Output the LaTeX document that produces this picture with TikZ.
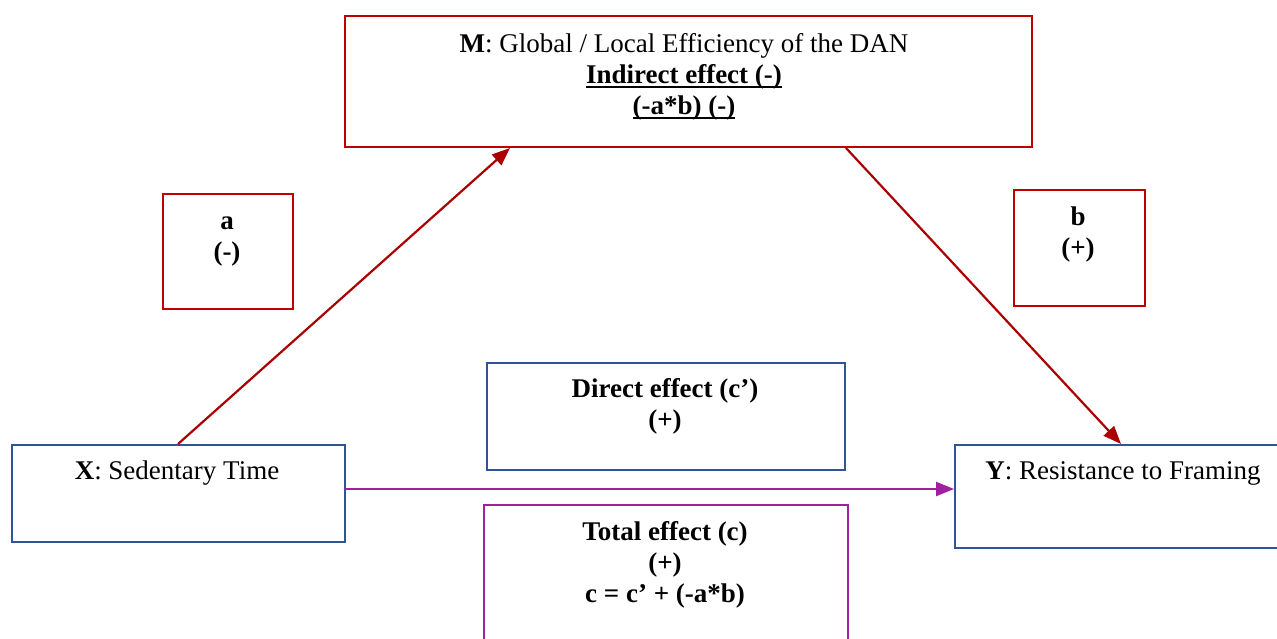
\documentclass[tikz,border=0pt]{standalone}
\usepackage{fontspec}
\setmainfont{Liberation Serif}
\newcommand{\thickul}[1]{\setbox0\hbox{#1}\leavevmode\rlap{\vrule width\wd0 height -2.6pt depth 4.4pt}\box0}
\usetikzlibrary{arrows.meta}
\definecolor{boxred}{RGB}{192,0,0}
\definecolor{arrred}{RGB}{170,0,0}
\definecolor{boxblue}{RGB}{47,85,151}
\definecolor{boxpurple}{RGB}{160,32,160}
\begin{document}
\begin{tikzpicture}[x=1pt,y=-1pt,
  box/.style={draw, line width=2.2pt, inner sep=0pt, anchor=north west},
  txt/.style={anchor=north, inner sep=0pt, align=center, font=\fontsize{27}{31}\selectfont},
  arr/.style={line width=2.2pt, -{Triangle[length=18pt,width=14pt]}}]
\useasboundingbox (0,0) rectangle (1277,639);
% boxes
\node[box, draw=boxred, minimum width=687pt, minimum height=131pt] (M) at (344,15) {};
\node[box, draw=boxred, minimum width=130pt, minimum height=115pt] (A) at (162,193) {};
\node[box, draw=boxred, minimum width=131pt, minimum height=116pt] (B) at (1013,189) {};
\node[box, draw=boxblue, minimum width=358pt, minimum height=107pt] (D) at (486,362) {};
\node[box, draw=boxblue, minimum width=333pt, minimum height=97pt] (X) at (11,444) {};
\node[box, draw=boxblue, minimum width=360pt, minimum height=103pt] (Y) at (954,444) {};
\node[box, draw=boxpurple, minimum width=364pt, minimum height=160pt] (T) at (483,504) {};
% texts
\node[txt] (Mt) at (684,31) {\strut\textbf{M}: Global / Local Efficiency of the DAN\\
  \strut\thickul{\textbf{Indirect effect (-)}}\\ \strut\thickul{\textbf{(-a*b) (-)}}};
\node[txt] (At) at (227,208) {\strut\textbf{a}\\ \strut\textbf{(-)}};
\node[txt] (Bt) at (1078,204) {\strut\textbf{b}\\ \strut\textbf{(+)}};
\node[txt] (Dt) at (665,376) {\strut\textbf{Direct effect (c’)}\\ \strut\textbf{(+)}};
\node[txt] (Xt) at (177,458) {\strut\textbf{X}: Sedentary Time};
\node[txt] (Yt) at (1123,458) {\strut\textbf{Y}: Resistance to Framing};
\node[txt] (Tt) at (665,519) {\strut\textbf{Total effect (c)}\\ \strut\textbf{(+)}\\ \strut\textbf{c = c’ + (-a*b)}};
% connectors
\coordinate (x1) at (178,444);
\coordinate (m1) at (510,148);
\coordinate (m2) at (846,148);
\coordinate (y1) at (1121,444);
\coordinate (x2) at (344,489);
\coordinate (y2) at (954,489);
\draw[arr, draw=arrred, fill=arrred] (x1) -- (m1);
\draw[arr, draw=arrred, fill=arrred] (m2) -- (y1);
\draw[arr, draw=boxpurple, fill=boxpurple] (x2) -- (y2);
\end{tikzpicture}
\end{document}
